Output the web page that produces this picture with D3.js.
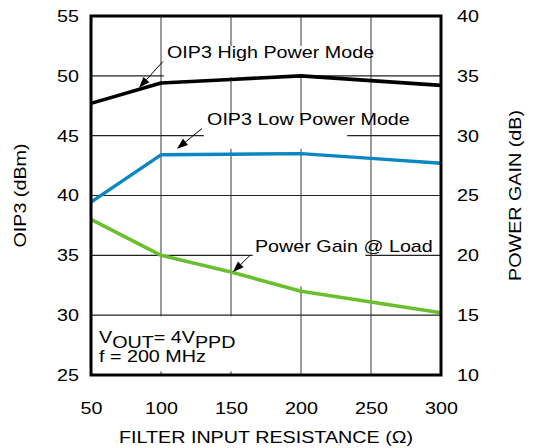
<!DOCTYPE html>
<html><head><meta charset="utf-8">
<script src="https://cdn.jsdelivr.net/npm/d3@7"></script>
<style>body{margin:0;background:#fff}svg{display:block}text{font-family:Arial,"Liberation Sans",Helvetica,sans-serif;fill:#000}</style>
</head><body><svg id="c" width="538" height="448"></svg>
<script>
const resistance = [50, 100, 150, 200, 250, 300];
const oip3High = [47.7, 49.4, 49.7, 50.0, 49.6, 49.2];
const oip3Low = [39.45, 43.4, 43.45, 43.5, 43.1, 42.7];
const powerGain = [23.0, 20.0, 18.6, 17.0, 16.1, 15.2];
const xTicks = [50, 100, 150, 200, 250, 300];
const yLeftTicks = [25, 30, 35, 40, 45, 50, 55];
const yRightTicks = [10, 15, 20, 25, 30, 35, 40];

const W = 538, H = 448;
const m = {l: 91, r: 97, t: 16, b: 73};
const svg = d3.select("#c");
svg.append("rect").attr("width", W).attr("height", H).attr("fill", "#fff");
const x = d3.scaleLinear().domain([50, 300]).range([m.l, W - m.r]);
const yL = d3.scaleLinear().domain([25, 55]).range([H - m.b, m.t]);
const yR = d3.scaleLinear().domain([10, 40]).range([H - m.b, m.t]);
const SX = 1.16, FS = 17;

function txt(px, py, s, anchor, rot) {
  return svg.append("text")
    .attr("transform", `translate(${px},${py}) rotate(${rot||0}) scale(${SX},1)`)
    .attr("text-anchor", anchor || "start")
    .attr("font-size", FS).text(s);
}

// gridlines
const grid = svg.append("g");
grid.selectAll("line.v").data(xTicks.slice(1, -1)).join("line")
  .attr("x1", d => x(d)).attr("x2", d => x(d))
  .attr("y1", m.t).attr("y2", H - m.b)
  .attr("stroke", "#7a7a7a").attr("stroke-width", 1.5);
grid.selectAll("line.h").data(yLeftTicks.slice(1, -1)).join("line")
  .attr("x1", m.l).attr("x2", W - m.r)
  .attr("y1", d => yL(d)).attr("y2", d => yL(d))
  .attr("stroke", "#222").attr("stroke-width", 1.1);

// label boxes (white backgrounds)
function box(x0, x1, y0, y1) {
  svg.append("rect").attr("x", x(x0)).attr("y", yL(y1))
    .attr("width", x(x1) - x(x0)).attr("height", yL(y0) - yL(y1)).attr("fill", "#fff");
}
box(102, 207, 49.9, 52.5);
box(130.5, 233, 43.9, 46.4);
box(165.5, 246, 32.4, 35.8);
box(51.5, 162, 25.3, 29.9);

// series
const lineL = d3.line().x((d, i) => x(resistance[i])).y(d => yL(d));
const lineR = d3.line().x((d, i) => x(resistance[i])).y(d => yR(d));
svg.append("path").attr("d", lineR(powerGain)).attr("fill", "none")
  .attr("stroke", "#6abf2e").attr("stroke-width", 3.6).attr("stroke-linejoin", "round");
svg.append("path").attr("d", lineL(oip3Low)).attr("fill", "none")
  .attr("stroke", "#0a86c2").attr("stroke-width", 3.4).attr("stroke-linejoin", "round");
svg.append("path").attr("d", lineL(oip3High)).attr("fill", "none")
  .attr("stroke", "#000").attr("stroke-width", 3.6).attr("stroke-linejoin", "round");

// frame
svg.append("rect").attr("x", m.l).attr("y", m.t)
  .attr("width", W - m.r - m.l).attr("height", H - m.b - m.t)
  .attr("fill", "none").attr("stroke", "#000").attr("stroke-width", 3);

// axes (ticks hidden, labels only)
const axL = svg.append("g").attr("transform", `translate(${m.l},0)`)
  .call(d3.axisLeft(yL).tickValues(yLeftTicks).tickSize(0).tickPadding(12));
const axR = svg.append("g").attr("transform", `translate(${W - m.r},0)`)
  .call(d3.axisRight(yR).tickValues(yRightTicks).tickSize(0).tickPadding(16));
const axB = svg.append("g").attr("transform", `translate(0,${H - m.b})`)
  .call(d3.axisBottom(x).tickValues(xTicks).tickSize(0).tickPadding(27));
[axL, axR, axB].forEach(a => {
  a.select(".domain").remove();
  a.selectAll("text").attr("font-size", FS).attr("font-family", null).attr("fill", "#000");
});
axL.selectAll(".tick text").each(function() {
  const t = d3.select(this); t.attr("transform", `translate(${t.attr("x")},0) scale(${SX},1)`).attr("x", 0);
});
axR.selectAll(".tick text").each(function() {
  const t = d3.select(this); t.attr("transform", `translate(${t.attr("x")},0) scale(${SX},1)`).attr("x", 0);
});
axB.selectAll(".tick text").attr("transform", `scale(${SX},1)`).each(function() {
  const t = d3.select(this); t.attr("x", 0);
});

// titles
txt(x(175), 443, "FILTER INPUT RESISTANCE (Ω)", "middle");
txt(26, (m.t + H - m.b) / 2, "OIP3 (dBm)", "middle", -90);
txt(521, (m.t + H - m.b) / 2 + 0, "POWER GAIN (dB)", "middle", -90);

// annotations
function arrow(x0, y0, x1, y1) {
  const p0 = [x(x0), yL(y0)], p1 = [x(x1), yL(y1)];
  const ang = Math.atan2(p1[1] - p0[1], p1[0] - p0[0]);
  const L = 11, Wd = 4;
  const b = [p1[0] - L * Math.cos(ang), p1[1] - L * Math.sin(ang)];
  svg.append("line").attr("x1", p0[0]).attr("y1", p0[1]).attr("x2", b[0]).attr("y2", b[1])
    .attr("stroke", "#000").attr("stroke-width", 1);
  const n = [-Math.sin(ang) * Wd, Math.cos(ang) * Wd];
  svg.append("path").attr("d", `M${p1[0]},${p1[1]}L${b[0] + n[0]},${b[1] + n[1]}L${b[0] - n[0]},${b[1] - n[1]}Z`)
    .attr("fill", "#000");
}
txt(x(104.3), yL(51.5), "OIP3 High Power Mode");
arrow(101.4, 51.2, 84.3, 49.0);
txt(x(132.9), yL(45.9), "OIP3 Low Power Mode");
arrow(129.3, 45.6, 111.4, 43.9);
txt(x(167.1), yL(35.3), "Power Gain @ Load");
arrow(163.6, 35.0, 151.4, 33.6);

const v = svg.append("text")
  .attr("transform", `translate(${x(55.7)},${yL(27.7)}) scale(${SX},1)`)
  .attr("font-size", FS);
v.append("tspan").text("V");
v.append("tspan").attr("dy", 5).text("OUT");
v.append("tspan").attr("dy", -5).text("= 4V");
v.append("tspan").attr("dy", 5).text("PPD");
txt(x(55.7), yL(26.1), "f = 200 MHz");
</script></body></html>
